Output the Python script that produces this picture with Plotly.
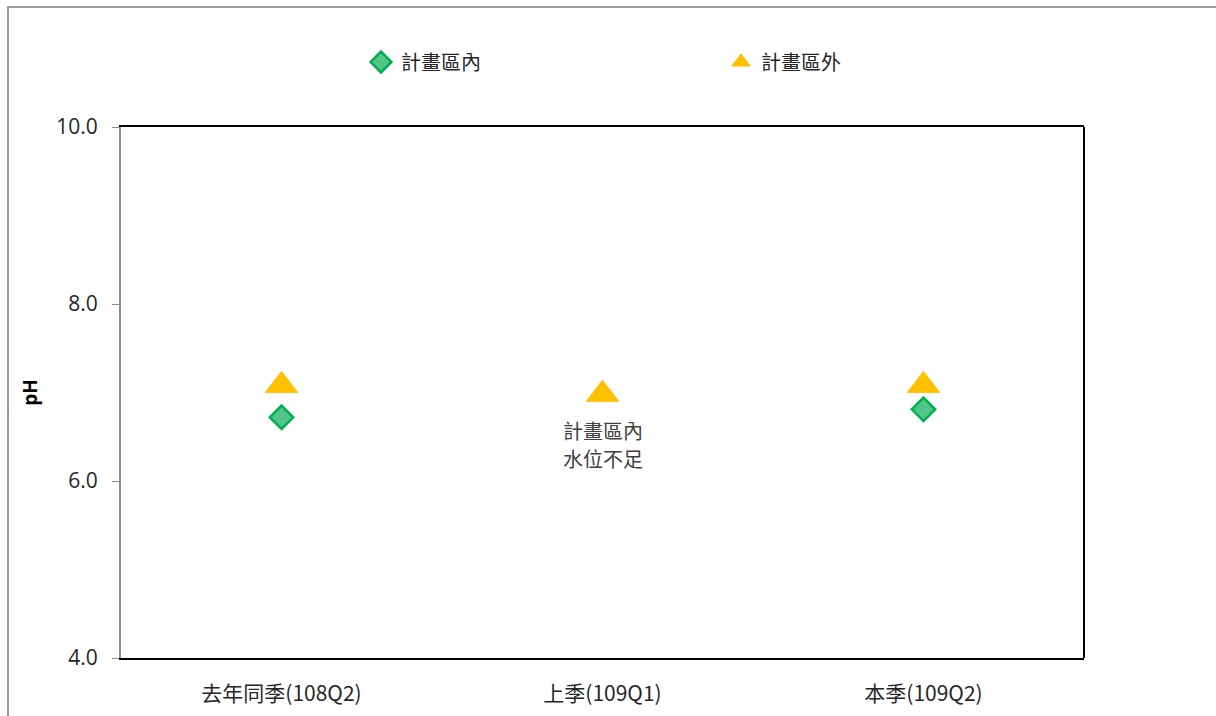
import plotly.graph_objects as go

# data
categories = ["去年同季(108Q2)", "上季(109Q1)", "本季(109Q2)"]
inside_ph = [6.72, None, 6.81]
outside_ph = [7.08, 6.98, 7.08]
y_ticks = [4.0, 6.0, 8.0, 10.0]
note_lines = ["計畫區內", "水位不足"]
note_y = [6.57, 6.25]

font_cjk = "Noto Sans CJK TC"

fig = go.Figure()

fig.add_trace(go.Scatter(
    x=categories, y=inside_ph, name="計畫區內", mode="markers",
    marker=dict(symbol="diamond", size=18, color="#52c689",
                line=dict(color="#00B050", width=2.5)),
))
fig.add_trace(go.Scatter(
    x=categories, y=outside_ph, name="計畫區外", mode="markers",
    marker=dict(symbol="triangle-up", size=28, color="#FFC000",
                line=dict(color="#FFC000", width=1)),
))

# note where no inside sample was taken
for line, yv in zip(note_lines, note_y):
    fig.add_annotation(
        x=categories[1], y=yv, text=line, showarrow=False,
        font=dict(family=font_cjk, size=20, color="#404040"),
    )

# outer chart border (extends past the window on the right/bottom)
fig.add_shape(type="rect", xref="paper", yref="paper",
              x0=(8 - 121) / 963, x1=1.2, y0=-0.3, y1=(658 - 7) / 531,
              line=dict(color="#9a9a9a", width=2), layer="below")
# right edge of plot frame
fig.add_shape(type="line", xref="paper", yref="paper",
              x0=1, x1=1, y0=0, y1=1, line=dict(color="black", width=2))

fig.update_layout(
    width=1216, height=716,
    margin=dict(l=121, r=132, t=127, b=58),
    paper_bgcolor="white", plot_bgcolor="white",
    font=dict(family=font_cjk, size=20, color="#262626"),
    showlegend=True,
    legend=dict(orientation="h", x=(361 - 121) / 963, xanchor="left",
                y=(658 - 62) / 531, yanchor="middle",
                entrywidth=315, entrywidthmode="pixels", itemwidth=30,
                font=dict(family=font_cjk, size=20, color="#262626"),
                bgcolor="rgba(0,0,0,0)"),
    xaxis=dict(range=[-0.5, 2.5], showgrid=False, zeroline=False, automargin=False,
               showline=True, linecolor="black", linewidth=2, mirror=True,
               ticks="", tickfont=dict(family=font_cjk, size=21, color="#262626"),
               ticklabelstandoff=16),
    yaxis=dict(range=[4, 10], tickvals=y_ticks, tickformat=".1f",
               showgrid=False, zeroline=False, automargin=False,
               showline=True, linecolor="#8c8c8c", linewidth=2,
               ticks="outside", ticklen=7, tickcolor="#8c8c8c", tickwidth=1,
               ticklabelstandoff=10,
               tickfont=dict(family="Open Sans", size=21, color="#262626"),
               title=dict(text="<b>pH</b>", standoff=14,
                          font=dict(family="Open Sans", size=19, color="#000000"))),
)

# the page has a default 8px body margin; drop it so the chart fills the window
fig.write_html("out.html", config={"displayModeBar": False},
               post_script="document.body.style.margin='0';")
